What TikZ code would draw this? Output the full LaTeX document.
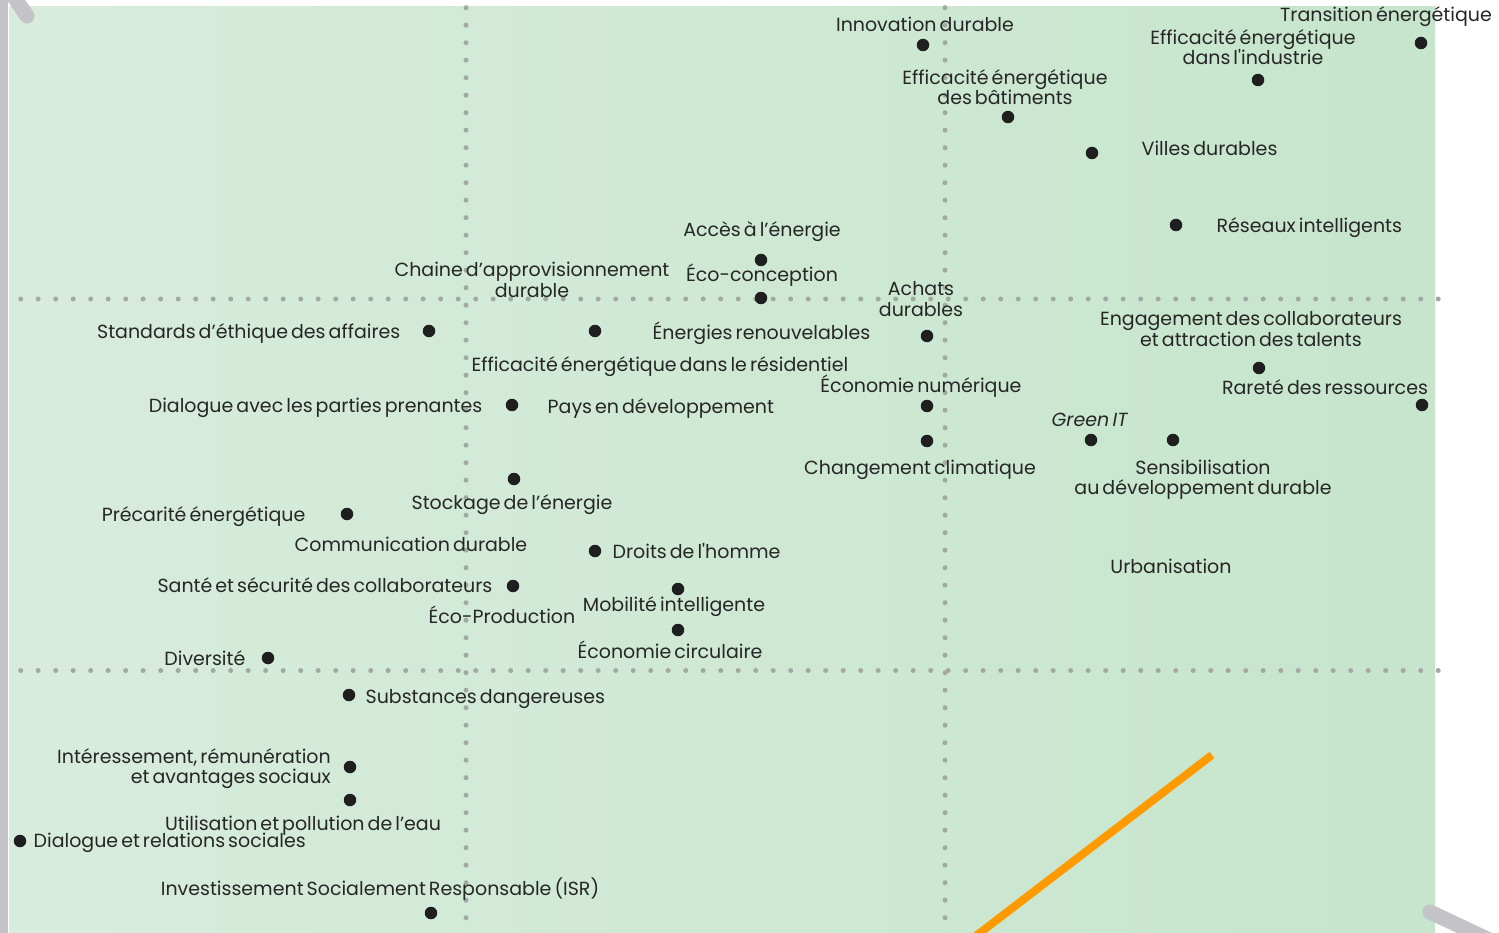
\documentclass[tikz,border=0pt]{standalone}
\usepackage{fontspec}
\setmainfont{Poppins}[WordSpace=0.6]
\usetikzlibrary{positioning}
\definecolor{bgleft}{HTML}{D8ECDD}
\definecolor{bgright}{HTML}{C6E5CC}
\definecolor{gridgray}{HTML}{A2A9A4}
\definecolor{framegray}{HTML}{C3C3C8}
\definecolor{txtgray}{HTML}{262626}
\definecolor{linkorange}{HTML}{FF9A00}

\begin{document}
\begin{tikzpicture}[
		x=1pt,y=-1pt,
		spot/.style={draw=none,fill=black!88,circle,inner sep=0pt,minimum size=12.5pt},
		lbl/.style={text=txtgray,inner sep=0pt,align=center},
		dotline/.style={gridgray,line width=5pt,line cap=round,dash pattern=on 0pt off 17.5pt},
		frame/.style={framegray,line width=15pt,line cap=round}
	]\fontsize{19}{20.5}\selectfont
		\useasboundingbox (0,0) rectangle (1499,933);
		\fill [framegray] (0,0) rectangle (8,933);
		\shade [left color=bgleft,right color=bgright] (9,7) rectangle (1435,933);
		\draw [frame] (12,-6) -- (27,16);
		\draw [frame] (1430,912) -- (1500,945);

		\draw [dotline] (20.7,299) -- (1440,299);
		\draw [dotline] (20.7,670.5) -- (1440,670.5);
		\draw [dotline] (466,7.7) -- (466,945);
		\draw [dotline] (945,7.7) -- (945,945);

		\draw [linkorange,line width=8pt] (1212,755) -- (968,942);

		\node [spot] (innov_dot) at (923,45) {};
		\node [spot] (trans_dot) at (1421,43) {};
		\node [spot] (indus_dot) at (1258,80) {};
		\node [spot] (batim_dot) at (1008,117) {};
		\node [spot] (villes_dot) at (1092,153) {};
		\node [spot] (reseaux_dot) at (1176,225) {};
		\node [spot] (acces_dot) at (761,260) {};
		\node [spot] (ecoconc_dot) at (761,298) {};
		\node [spot] (std_dot) at (429,331) {};
		\node [spot] (enr_dot) at (595,331) {};
		\node [spot] (achats_dot) at (927,336) {};
		\node [spot] (dial_pp_dot) at (512,405) {};
		\node [spot] (numer_dot) at (927,406) {};
		\node [spot] (climat_dot) at (927,441) {};
		\node [spot] (green_dot) at (1091,440) {};
		\node [spot] (sensib_dot) at (1173,440) {};
		\node [spot] (engag_dot) at (1259,368) {};
		\node [spot] (rarete_dot) at (1422,405) {};
		\node [spot] (stock_dot) at (514,479) {};
		\node [spot] (precar_dot) at (347,514) {};
		\node [spot] (droits_dot) at (595,551) {};
		\node [spot] (sante_dot) at (513,586) {};
		\node [spot] (mobil_dot) at (678,589) {};
		\node [spot] (circ_dot) at (678,630) {};
		\node [spot] (divers_dot) at (268,658) {};
		\node [spot] (subst_dot) at (349,695) {};
		\node [spot] (interess_dot) at (350,767) {};
		\node [spot] (eau_dot) at (350,800) {};
		\node [spot] (dial_soc_dot) at (20,841) {};
		\node [spot] (isr_dot) at (431,913) {};

		\node [lbl,anchor=base] (innov) at (925,32) {Innovation durable};
		\node [lbl,anchor=base] (trans) at (1386,22) {Transition énergétique};
		\node [lbl] (indus) at (1253,47) {Efficacité énergétique\\dans l\textquotesingle industrie};
		\node [lbl] (batim) at (1005,87) {Efficacité énergétique\\des bâtiments};
		\node [lbl,right=43pt of villes_dot,yshift=5pt] (villes) {Villes durables};
		\node [lbl,right=34pt of reseaux_dot,yshift=-3pt] (reseaux) {Réseaux intelligents};
		\node [lbl,anchor=base] (acces) at (762,237) {Accès à l’énergie};
		\node [lbl,anchor=base] (ecoconc) at (762,282) {Éco-conception};
		\node [lbl] (chaine) at (532,280) {Chaine d’approvisionnement\\durable};
		\node [lbl] (achats) at (921,299) {Achats\\durables};
		\node [lbl,left=22pt of std_dot,yshift=-3pt] (std) {Standards d’éthique des affaires};
		\node [lbl,right=51pt of enr_dot,yshift=-2pt] (enr) {Énergies renouvelables};
		\node [lbl,anchor=base] (resid) at (660,371) {Efficacité énergétique dans le résidentiel};
		\node [lbl,left=23pt of dial_pp_dot,yshift=-3pt] (dial_pp) {Dialogue avec les parties prenantes};
		\node [lbl,right=29pt of dial_pp_dot,yshift=-4pt] (pays) {Pays en développement};
		\node [lbl,anchor=base] (numer) at (921,392) {Économie numérique};
		\node [lbl,anchor=base] (climat) at (920,474) {Changement climatique};
		\node [lbl,anchor=base] (green) at (1090,426) {\textit{Green IT}};
		\node [lbl] (sensib) at (1203,479.5) {Sensibilisation\\au développement durable};
		\node [lbl] (engag) at (1251,329) {Engagement des collaborateurs\\et attraction des talents};
		\node [lbl,anchor=base] (rarete) at (1325,394) {Rareté des ressources};
		\node [lbl,anchor=base] (stock) at (512,509) {Stockage de l’énergie};
		\node [lbl,left=35pt of precar_dot,yshift=-3pt] (precar) {Précarité énergétique};
		\node [lbl,anchor=base] (comm) at (411,551) {Communication durable};
		\node [lbl,right=11pt of droits_dot] (droits) {Droits de l\textquotesingle homme};
		\node [lbl,left=14pt of sante_dot,yshift=1pt] (sante) {Santé et sécurité des collaborateurs};
		\node [lbl,anchor=base] (mobil) at (674,611) {Mobilité intelligente};
		\node [lbl,anchor=base] (ecoprod) at (502,623) {Éco-Production};
		\node [lbl,anchor=base] (circ) at (670,658) {Économie circulaire};
		\node [lbl,left=16pt of divers_dot] (divers) {Diversité};
		\node [lbl,right=10pt of subst_dot,yshift=-4pt] (subst) {Substances dangereuses};
		\node [lbl,align=right,anchor=east] (interess) at (331,768.5) {Intéressement, rémunération\\et avantages sociaux};
		\node [lbl,anchor=base] (eau) at (303,830) {Utilisation et pollution de l’eau};
		\node [lbl,right=7pt of dial_soc_dot,yshift=-2pt] (dial_soc) {Dialogue et relations sociales};
		\node [lbl,anchor=base] (isr) at (380,895) {Investissement Socialement Responsable (ISR)};
		\node [lbl,anchor=base] (urban) at (1171,573) {Urbanisation};
	\end{tikzpicture}
\end{document}
